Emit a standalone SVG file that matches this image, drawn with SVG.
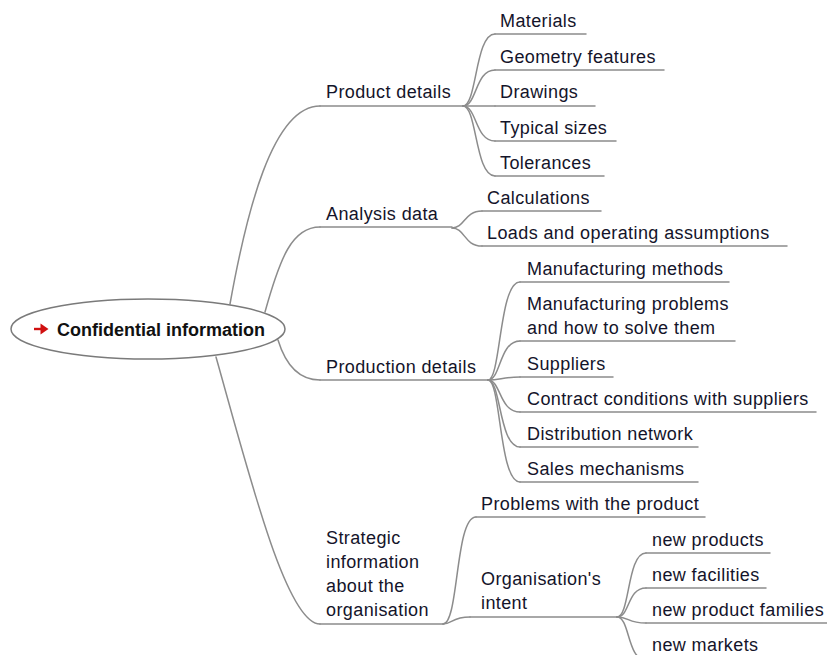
<svg xmlns="http://www.w3.org/2000/svg" width="827" height="655" viewBox="0 0 827 655">
  <style>
    .t { font-family: "Liberation Sans", Arial, sans-serif; font-size: 18px; letter-spacing: 0.4px; fill: #14142a; }
    .root { font-family: "Liberation Sans", Arial, sans-serif; font-size: 18px; font-weight: bold; fill: #111; }
    .u, .c { fill: none; stroke: #8c8c8c; stroke-width: 1.5; stroke-linecap: round; }
  </style>
  <rect width="827" height="655" fill="#fff"/>

  <!-- connectors: curves from each parent fork to the child underline -->
  <g id="connectors">
    <path class="c" d="M230,304 C246,215 272,106 320,106"/>
    <path class="c" d="M265,312 C280,258 292,227 320,227"/>
    <path class="c" d="M278,340 C286,366 300,380 320,380"/>
    <path class="c" d="M216,357 C248,470 286,624 320,624"/>

    <path class="c" d="M463,106 C477,106 475,34 495,34"/>
    <path class="c" d="M463,106 C477,106 475,70 495,70"/>
    <path class="c" d="M463,106 L495,106"/>
    <path class="c" d="M463,106 C477,106 475,141 495,141"/>
    <path class="c" d="M463,106 C477,106 475,176 495,176"/>

    <path class="c" d="M452,228 C465,228 464,211 482,211"/>
    <path class="c" d="M452,228 C465,228 464,246 482,246"/>

    <path class="c" d="M488,380 C501,380 499,282 520,282"/>
    <path class="c" d="M488,380 C501,380 499,341 520,341"/>
    <path class="c" d="M488,380 C501,380 502,377 520,377"/>
    <path class="c" d="M488,380 C501,380 499,412 520,412"/>
    <path class="c" d="M488,380 C501,380 499,447 520,447"/>
    <path class="c" d="M488,380 C501,380 499,482 520,482"/>

    <path class="c" d="M443,624 C459,624 455,517 476,517"/>
    <path class="c" d="M443,624 C452,624 452,617 470,617"/>

    <path class="c" d="M617,617 C630,617 627,553 646,553"/>
    <path class="c" d="M617,617 C630,617 627,588 646,588"/>
    <path class="c" d="M617,617 C630,617 627,623 646,623"/>
    <path class="c" d="M617,617 C630,617 627,660 646,660"/>
  </g>

  <!-- central topic -->
  <g id="root">
    <ellipse cx="148" cy="329" rx="137" ry="30" fill="#fff" stroke="#7a7a7a" stroke-width="1.5"/>
    <path d="M34,329 H43" stroke="#d01010" stroke-width="2.4" fill="none"/>
    <path d="M40.5,323.5 L48.5,329 L40.5,334.5 Z" fill="#d01010"/>
    <text class="root" x="57" y="336">Confidential information</text>
  </g>

  <!-- main topics -->
  <g id="product-details">
    <path class="u" d="M320,106 H463"/>
    <text class="t" x="326" y="98">Product details</text>
  </g>
  <g id="analysis-data">
    <path class="u" d="M320,227 H452"/>
    <text class="t" x="326" y="220">Analysis data</text>
  </g>
  <g id="production-details">
    <path class="u" d="M320,380 H488"/>
    <text class="t" x="326" y="373">Production details</text>
  </g>
  <g id="strategic-information">
    <path class="u" d="M320,624 H443"/>
    <text class="t" x="326" y="544">Strategic</text>
    <text class="t" x="326" y="568">information</text>
    <text class="t" x="326" y="592">about the</text>
    <text class="t" x="326" y="616">organisation</text>
  </g>

  <!-- product details -->
  <g id="materials">
    <path class="u" d="M495,34 H586"/>
    <text class="t" x="500" y="27">Materials</text>
  </g>
  <g id="geometry-features">
    <path class="u" d="M495,70 H664"/>
    <text class="t" x="500" y="63">Geometry features</text>
  </g>
  <g id="drawings">
    <path class="u" d="M495,106 H595"/>
    <text class="t" x="500" y="98">Drawings</text>
  </g>
  <g id="typical-sizes">
    <path class="u" d="M495,141 H616"/>
    <text class="t" x="500" y="134">Typical sizes</text>
  </g>
  <g id="tolerances">
    <path class="u" d="M495,176 H604"/>
    <text class="t" x="500" y="169">Tolerances</text>
  </g>

  <!-- analysis data -->
  <g id="calculations">
    <path class="u" d="M482,211 H601"/>
    <text class="t" x="487" y="204">Calculations</text>
  </g>
  <g id="loads">
    <path class="u" d="M482,246 H787"/>
    <text class="t" x="487" y="239">Loads and operating assumptions</text>
  </g>

  <!-- production details -->
  <g id="manufacturing-methods">
    <path class="u" d="M520,282 H729"/>
    <text class="t" x="527" y="275">Manufacturing methods</text>
  </g>
  <g id="manufacturing-problems">
    <path class="u" d="M520,341 H735"/>
    <text class="t" x="527" y="310">Manufacturing problems</text>
    <text class="t" x="527" y="334">and how to solve them</text>
  </g>
  <g id="suppliers">
    <path class="u" d="M520,377 H613"/>
    <text class="t" x="527" y="370">Suppliers</text>
  </g>
  <g id="contract-conditions">
    <path class="u" d="M520,412 H816"/>
    <text class="t" x="527" y="405">Contract conditions with suppliers</text>
  </g>
  <g id="distribution-network">
    <path class="u" d="M520,447 H698"/>
    <text class="t" x="527" y="440">Distribution network</text>
  </g>
  <g id="sales-mechanisms">
    <path class="u" d="M520,482 H698"/>
    <text class="t" x="527" y="475">Sales mechanisms</text>
  </g>

  <!-- strategic information -->
  <g id="problems-with-product">
    <path class="u" d="M476,517 H705"/>
    <text class="t" x="481" y="510">Problems with the product</text>
  </g>
  <g id="organisations-intent">
    <path class="u" d="M470,617 H617"/>
    <text class="t" x="481" y="585">Organisation's</text>
    <text class="t" x="481" y="609">intent</text>
  </g>

  <!-- organisation's intent -->
  <g id="new-products">
    <path class="u" d="M646,553 H770"/>
    <text class="t" x="652" y="546">new products</text>
  </g>
  <g id="new-facilities">
    <path class="u" d="M646,588 H766"/>
    <text class="t" x="652" y="581">new facilities</text>
  </g>
  <g id="new-product-families">
    <path class="u" d="M646,623 H830"/>
    <text class="t" x="652" y="616">new product families</text>
  </g>
  <g id="new-markets">
    <path class="u" d="M646,660 H780"/>
    <text class="t" x="652" y="651">new markets</text>
  </g>
</svg>
